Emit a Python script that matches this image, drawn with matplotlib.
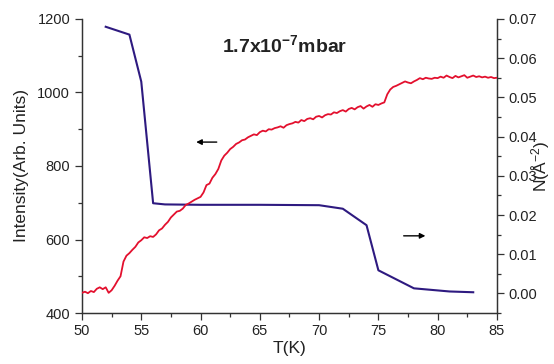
import matplotlib
matplotlib.use("Agg")
import matplotlib.pyplot as plt
from matplotlib.ticker import MultipleLocator

plt.rcParams['font.family'] = ['Liberation Sans', 'DejaVu Sans']
plt.rcParams['mathtext.fontset'] = 'custom'
plt.rcParams['mathtext.rm'] = 'Liberation Sans'
plt.rcParams['mathtext.bf'] = 'Liberation Sans:bold'
plt.rcParams['mathtext.it'] = 'Liberation Sans:italic'

# Red series: intensity vs temperature (left axis)
T_int = [50.00, 50.25, 50.50, 50.75, 51.00, 51.25, 51.50, 51.75, 52.00, 52.25,
         52.50, 52.75, 53.00, 53.25, 53.50, 53.75, 54.00, 54.25, 54.50, 54.75,
         55.00, 55.25, 55.50, 55.75, 56.00, 56.25, 56.50, 56.75, 57.00, 57.25,
         57.50, 57.75, 58.00, 58.25, 58.50, 58.75, 59.00, 59.25, 59.50, 59.75,
         60.00, 60.25, 60.50, 60.75, 61.00, 61.25, 61.50, 61.75, 62.00, 62.25,
         62.50, 62.75, 63.00, 63.25, 63.50, 63.75, 64.00, 64.25, 64.50, 64.75,
         65.00, 65.25, 65.50, 65.75, 66.00, 66.25, 66.50, 66.75, 67.00, 67.25,
         67.50, 67.75, 68.00, 68.25, 68.50, 68.75, 69.00, 69.25, 69.50, 69.75,
         70.00, 70.25, 70.50, 70.75, 71.00, 71.25, 71.50, 71.75, 72.00, 72.25,
         72.50, 72.75, 73.00, 73.25, 73.50, 73.75, 74.00, 74.25, 74.50, 74.75,
         75.00, 75.25, 75.50, 75.75, 76.00, 76.25, 76.50, 76.75, 77.00, 77.25,
         77.50, 77.75, 78.00, 78.25, 78.50, 78.75, 79.00, 79.25, 79.50, 79.75,
         80.00, 80.25, 80.50, 80.75, 81.00, 81.25, 81.50, 81.75, 82.00, 82.25,
         82.50, 82.75, 83.00, 83.25, 83.50, 83.75, 84.00, 84.25, 84.50, 84.75,
         85.00]
intensity = [455, 458, 454, 460, 457, 466, 470, 465, 470, 455,
             462, 474, 488, 500, 540, 556, 563, 572, 580, 592,
             598, 606, 604, 609, 607, 614, 625, 630, 640, 648,
             660, 668, 676, 678, 684, 694, 698, 703, 708, 712,
             716, 728, 748, 752, 768, 778, 792, 815, 828, 836,
             846, 852, 860, 864, 870, 872, 878, 882, 886, 884,
             892, 896, 894, 900, 899, 903, 905, 908, 904, 911,
             914, 916, 920, 918, 925, 922, 928, 930, 927, 934,
             936, 932, 938, 941, 940, 946, 944, 949, 952, 948,
             955, 958, 954, 960, 963, 956, 962, 966, 961, 968,
             966, 970, 973, 995, 1008, 1015, 1018, 1022, 1026, 1030,
             1027, 1025, 1030, 1034, 1039, 1036, 1040, 1038, 1037, 1040,
             1039, 1043, 1040, 1046, 1042, 1039, 1045, 1041, 1044, 1047,
             1040, 1043, 1046, 1042, 1044, 1041, 1043, 1040, 1042, 1039,
             1040]

# Blue series: N vs temperature (right axis)
T_N = [52, 54, 55, 56, 57, 60, 65, 70, 72, 74, 75, 78, 81, 83]
N_vals = [0.068, 0.066, 0.054, 0.0230, 0.0227, 0.0226, 0.0226, 0.0225,
          0.0216, 0.0174, 0.0059, 0.0013, 0.0005, 0.0003]

fig = plt.figure(figsize=(5.54, 3.64), dpi=100)
ax = fig.add_axes([0.148, 0.140, 0.749, 0.808])
ax2 = ax.twinx()

ax.plot(T_int, intensity, color='#E3102E', lw=1.3, zorder=3)
ax2.plot(T_N, N_vals, color='#2E1A80', lw=1.5)
ax.set_zorder(ax2.get_zorder() + 1)
ax.patch.set_visible(False)

ax.set_xlim(50, 85)
ax.set_ylim(400, 1200)
ax2.set_ylim(-0.005, 0.07)

for a in (ax, ax2):
    a.spines['top'].set_visible(False)
    for s in a.spines.values():
        s.set_color('#333333')
        s.set_linewidth(0.9)

ax.xaxis.set_major_locator(MultipleLocator(5))
ax.xaxis.set_minor_locator(MultipleLocator(2.5))
ax.yaxis.set_major_locator(MultipleLocator(200))
ax.yaxis.set_minor_locator(MultipleLocator(100))
ax2.yaxis.set_minor_locator(MultipleLocator(0.005))
ax2.set_yticks([0.0, 0.01, 0.02, 0.03, 0.04, 0.05, 0.06, 0.07])
ax2.set_yticklabels(['0.00', '0.01', '0.02', '0.03', '0.04', '0.05', '0.06', '0.07'])

for a in (ax, ax2):
    a.tick_params(which='major', direction='out', length=5, width=0.9,
                  labelsize=10.5, colors='#333333', labelcolor='#222222')
    a.tick_params(which='minor', direction='out', length=3, width=0.9,
                  colors='#333333')
ax.tick_params(axis='x', pad=3)

ax.set_xlabel('T(K)', fontsize=12.5, color='#222222', labelpad=2)
ax.set_ylabel('Intensity(Arb. Units)', fontsize=12.5, color='#222222', labelpad=6)
ax2.set_ylabel('N(Å$^{-2}$)', fontsize=12.5, color='#222222', labelpad=-6)

ax.text(61.8, 1110, r'1.7x10$^{\mathbf{-7}}$mbar', fontsize=14,
        fontweight='bold', color='#222222', ha='left', va='baseline')

ax.annotate('', xy=(59.4, 865), xytext=(61.6, 865),
            arrowprops=dict(arrowstyle='-|>', color='black', lw=1.0,
                            mutation_scale=8))
ax.annotate('', xy=(79.2, 610), xytext=(76.9, 610),
            arrowprops=dict(arrowstyle='-|>', color='black', lw=1.0,
                            mutation_scale=8))

fig.savefig('out.png', dpi=100)
